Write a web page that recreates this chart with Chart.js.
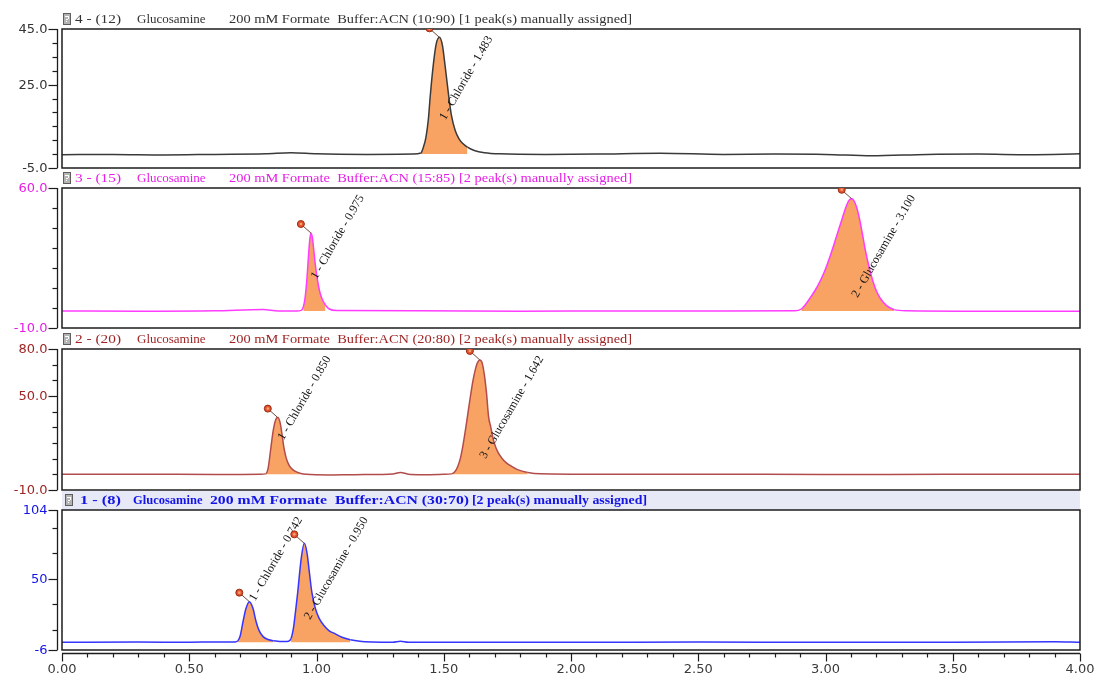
<!DOCTYPE html>
<html>
<head>
<meta charset="utf-8">
<script src="https://cdn.jsdelivr.net/npm/chart.js@4.4.1/dist/chart.umd.min.js"></script>
<style>
html, body { margin: 0; padding: 0; background: #fff; }
#wrap { position: relative; width: 1094px; height: 679px; overflow: hidden; }
#wrap canvas { position: absolute; left: 0; }
</style>
</head>
<body>
<div id="wrap">
<canvas id="p1" width="1094" height="180" style="top:0px"></canvas>
<canvas id="p2" width="1094" height="180" style="top:160px"></canvas>
<canvas id="p3" width="1094" height="182" style="top:320px"></canvas>
<canvas id="p4" width="1094" height="197" style="top:482px"></canvas>
</div>
<script>
// ---- data (time in min, signal) ----
var times1 = [0.00, 0.20, 0.40, 0.60, 0.80, 0.90, 1.00, 1.20, 1.38, 1.41, 1.42, 1.43, 1.44, 1.447, 1.46, 1.47, 1.483, 1.495, 1.505, 1.518, 1.53, 1.545, 1.56, 1.575, 1.593, 1.62, 1.66, 1.72, 1.90, 2.10, 2.35, 2.60, 2.80, 3.00, 3.18, 3.40, 3.60, 3.80, 4.00];
var signal1 = [-0.2, -0.1, -0.3, -0.1, 0.1, 0.5, 0.1, -0.1, 0, 0.4, 2.5, 6, 13, 21, 33, 39.5, 42, 39, 32, 22, 14, 8.5, 5.5, 3.8, 2.5, 1.3, 0.5, 0.1, -0.1, 0, 0.3, -0.1, 0, -0.1, -0.6, -0.1, 0, -0.2, 0.1];

var times2 = [0.00, 0.30, 0.60, 0.79, 0.85, 0.92, 0.94, 0.948, 0.955, 0.962, 0.968, 0.973, 0.978, 0.984, 0.99, 0.997, 1.005, 1.013, 1.022, 1.035, 1.05, 1.08, 1.40, 1.80, 2.20, 2.60, 2.88, 2.905, 2.92, 2.934, 2.96, 2.981, 3.00, 3.021, 3.04, 3.06, 3.075, 3.085, 3.095, 3.103, 3.112, 3.122, 3.132, 3.145, 3.158, 3.172, 3.186, 3.20, 3.217, 3.24, 3.27, 3.32, 3.60, 4.00];
var signal2 = [-1.5, -1.6, -1.4, -0.8, -1.5, -1.5, -1.2, 0.5, 5, 14, 25, 33.5, 37.5, 35, 28, 20, 13, 8, 4.5, 1.5, -0.5, -1.3, -1.4, -1.6, -1.5, -1.5, -1.4, -0.5, 1.5, 4, 9, 14, 19.5, 27, 34.5, 42.5, 48.5, 52, 54.2, 54.6, 53.6, 50.5, 45.5, 37, 28, 20, 13.5, 8.5, 4.5, 1.2, -0.8, -1.4, -1.6, -1.6];

var times3 = [0.00, 0.30, 0.60, 0.78, 0.80, 0.81, 0.82, 0.83, 0.84, 0.848, 0.857, 0.865, 0.872, 0.88, 0.89, 0.90, 0.915, 0.935, 0.96, 1.05, 1.15, 1.25, 1.30, 1.33, 1.36, 1.42, 1.50, 1.53, 1.545, 1.555, 1.565, 1.575, 1.585, 1.595, 1.605, 1.615, 1.625, 1.633, 1.642, 1.651, 1.66, 1.668, 1.676, 1.685, 1.695, 1.705, 1.715, 1.73, 1.745, 1.762, 1.79, 1.83, 1.88, 2.10, 2.50, 3.00, 3.50, 4.00];
var signal3 = [0, 0.1, -0.1, 0, 0.3, 4, 16, 28, 35, 36.2, 33, 25, 17, 11, 6.5, 4, 2, 0.7, 0, -0.4, -0.2, -0.1, 0.2, 1.2, 0.1, -0.2, 0, 0.3, 2, 5, 10, 18, 28, 39, 50, 60, 67.5, 71.5, 73, 71, 63, 52, 37, 30, 22, 17, 13.5, 10, 7.5, 5.5, 3, 1.2, 0.3, 0, 0.1, -0.1, 0, 0];

var times4 = [0.00, 0.30, 0.50, 0.60, 0.68, 0.69, 0.70, 0.711, 0.722, 0.736, 0.75, 0.763, 0.775, 0.79, 0.81, 0.83, 0.855, 0.875, 0.89, 0.90, 0.91, 0.918, 0.926, 0.94, 0.952, 0.963, 0.972, 0.982, 0.995, 1.01, 1.03, 1.05, 1.066, 1.10, 1.133, 1.17, 1.22, 1.30, 1.33, 1.36, 1.60, 2.00, 2.50, 3.00, 3.50, 3.90, 4.00];
var signal4 = [0, 0.2, 0.1, 0.3, 0.3, 1, 5, 16, 26, 32, 27, 16, 9, 4.5, 2.2, 1.2, 0.7, 0.6, 0.8, 3, 12, 25, 39, 66, 77.8, 70, 55, 39, 27, 19, 13, 9, 7.4, 4, 2, 0.8, 0.2, 0, 0.8, 0, 0.1, 0, 0.2, 0, 0, 0.5, 0];

// integrated peaks: [from, to] and their labels
var fills1 = [[1.41, 1.60]];
var fills2 = [[0.945, 1.04], [2.90, 3.28]];
var fills3 = [[0.80, 0.94], [1.53, 1.86]];
var fills4 = [[0.69, 0.83], [0.895, 1.16]];
var peaks1 = ['1 - Chloride - 1.483'];
var peaks2 = ['1 - Chloride - 0.975', '2 - Glucosamine - 3.100'];
var peaks3 = ['1 - Chloride - 0.850', '3 - Glucosamine - 1.642'];
var peaks4 = ['1 - Chloride - 0.742', '2 - Glucosamine - 0.950'];

var titles1 = ['4 - (12)', 'Glucosamine', '200 mM Formate  Buffer:ACN (10:90)', '[1 peak(s) manually assigned]'];
var titles2 = ['3 - (15)', 'Glucosamine', '200 mM Formate  Buffer:ACN (15:85)', '[2 peak(s) manually assigned]'];
var titles3 = ['2 - (20)', 'Glucosamine', '200 mM Formate  Buffer:ACN (20:80)', '[2 peak(s) manually assigned]'];
var titles4 = ['1 - (8)', 'Glucosamine', '200 mM Formate  Buffer:ACN (30:70)', '[2 peak(s) manually assigned]'];

// axis ticks
var yMajor1 = [45, 25, -5], yLabels1 = ['45.0', '25.0', '-5.0'], yMinor1 = [40, 35, 30, 20, 15, 10, 5, 0];
var yMajor2 = [60, -10], yLabels2 = ['60.0', '-10.0'], yMinor2 = [50, 40, 30, 20, 10, 0];
var yMajor3 = [80, 50, -10], yLabels3 = ['80.0', '50.0', '-10.0'], yMinor3 = [70, 60, 40, 30, 20, 10, 0];
var yMajor4 = [104, 50, -6], yLabels4 = ['104', '50', '-6'], yMinor4 = [90, 70, 30, 10];
var xMajor = [0, 0.5, 1, 1.5, 2, 2.5, 3, 3.5, 4];
var xLabels = ['0.00', '0.50', '1.00', '1.50', '2.00', '2.50', '3.00', '3.50', '4.00'];
var xMinor = [0.1, 0.2, 0.3, 0.4, 0.6, 0.7, 0.8, 0.9, 1.1, 1.2, 1.3, 1.4, 1.6, 1.7, 1.8, 1.9, 2.1, 2.2, 2.3, 2.4, 2.6, 2.7, 2.8, 2.9, 3.1, 3.2, 3.3, 3.4, 3.6, 3.7, 3.8, 3.9];

var ORANGE = '#f8a264';
var NONE = 'rgba(0,0,0,0)';

var panelPlugin = {
  id: 'panel',
  afterDraw: function(chart, args, o) {
    var ctx = chart.ctx, a = chart.chartArea;
    var ys = chart.scales.y, xs = chart.scales.x;
    ctx.save();

    // title strip
    if (o.highlight) {
      ctx.fillStyle = '#e7e9f6';
      ctx.fillRect(a.left, a.top - 19, a.right - a.left, 19);
    }
    // little report icon
    var iy = a.top - 16;
    ctx.fillStyle = '#b4b4b4';
    ctx.fillRect(o.iconX, iy, 8, 12);
    ctx.strokeStyle = '#5e5e5e';
    ctx.lineWidth = 1;
    ctx.strokeRect(o.iconX + 0.5, iy + 0.5, 7, 11);
    ctx.fillStyle = '#ffffff';
    ctx.fillRect(o.iconX + 2, iy + 3, 4, 1);
    ctx.fillRect(o.iconX + 5, iy + 4, 1, 2);
    ctx.fillRect(o.iconX + 3, iy + 6, 2, 1);
    ctx.fillRect(o.iconX + 3, iy + 8, 1, 1);

    // title pieces; a piece with an end x is stretched to that width
    ctx.fillStyle = o.color;
    ctx.font = (o.bold ? 'bold 12.5px' : '13px') + ' "Liberation Serif"';
    ctx.textBaseline = 'middle';
    ctx.textAlign = 'left';
    o.title.forEach(function(s, i) {
      var x0 = o.titlePos[i][0], x1 = o.titlePos[i][1];
      var w = ctx.measureText(s).width;
      ctx.save();
      ctx.translate(x0, a.top - 9);
      if (x1) ctx.scale((x1 - x0) / w, 1);
      ctx.fillText(s, 0, 0);
      ctx.restore();
    });

    // frame
    ctx.strokeStyle = '#1c1c1c';
    ctx.lineWidth = 1.5;
    ctx.strokeRect(a.left, a.top, a.right - a.left, a.bottom - a.top);

    // y axis (separate line left of the frame)
    var axX = a.left - 4.5;
    ctx.beginPath();
    ctx.moveTo(axX, a.top);
    ctx.lineTo(axX, a.bottom);
    ctx.lineWidth = 1.3;
    ctx.stroke();
    ctx.lineWidth = 1.2;
    o.yMajor.forEach(function(v) {
      var y = Math.round(ys.getPixelForValue(v)) + 0.5;
      ctx.beginPath(); ctx.moveTo(axX - 9, y); ctx.lineTo(axX, y); ctx.stroke();
    });
    o.yMinor.forEach(function(v) {
      var y = Math.round(ys.getPixelForValue(v)) + 0.5;
      ctx.beginPath(); ctx.moveTo(axX - 5, y); ctx.lineTo(axX, y); ctx.stroke();
    });
    ctx.fillStyle = o.color;
    ctx.font = '13px "DejaVu Sans"';
    ctx.textAlign = 'right';
    o.yMajor.forEach(function(v, i) {
      ctx.fillText(o.yLabels[i], axX - 10, ys.getPixelForValue(v) + 1);
    });

    // x axis on the last panel only
    if (o.xAxis) {
      var by = a.bottom + 3.5;
      ctx.strokeStyle = '#1c1c1c';
      ctx.lineWidth = 1.3;
      ctx.beginPath(); ctx.moveTo(a.left, by); ctx.lineTo(a.right, by); ctx.stroke();
      ctx.lineWidth = 1.2;
      xMajor.forEach(function(v) {
        var x = Math.round(xs.getPixelForValue(v)) + 0.5;
        ctx.beginPath(); ctx.moveTo(x, by); ctx.lineTo(x, by + 8); ctx.stroke();
      });
      xMinor.forEach(function(v) {
        var x = Math.round(xs.getPixelForValue(v)) + 0.5;
        ctx.beginPath(); ctx.moveTo(x, by); ctx.lineTo(x, by + 4); ctx.stroke();
      });
      ctx.fillStyle = '#3a3a3a';
      ctx.textAlign = 'center';
      xMajor.forEach(function(v, i) {
        ctx.fillText(xLabels[i], xs.getPixelForValue(v), by + 16);
      });
    }

    // peak markers and labels
    ctx.beginPath();
    ctx.rect(a.left, a.top, a.right - a.left, a.bottom - a.top);
    ctx.clip();
    var data = chart.data.datasets[0].data;
    var pts = chart.getDatasetMeta(0).data;
    o.fills.forEach(function(r, k) {
      var best = -1;
      data.forEach(function(d, i) {
        if (d.x >= r[0] && d.x <= r[1] && (best < 0 || d.y > data[best].y)) best = i;
      });
      var ax = pts[best].x, ay = pts[best].y;
      ctx.strokeStyle = '#6b4a3a';
      ctx.lineWidth = 1;
      ctx.beginPath(); ctx.moveTo(ax - 9, ay - 8); ctx.lineTo(ax, ay); ctx.stroke();
      ctx.fillStyle = '#e2552c';
      ctx.strokeStyle = '#9a2a12';
      ctx.beginPath(); ctx.arc(ax - 10, ay - 9, 3.5, 0, Math.PI * 2); ctx.fill(); ctx.stroke();
      ctx.fillStyle = '#f6a07a';
      ctx.beginPath(); ctx.arc(ax - 10, ay - 9, 1.3, 0, Math.PI * 2); ctx.fill();

      var txt = o.peaks[k];
      ctx.font = '12px "Liberation Serif"';
      ctx.textAlign = 'left';
      ctx.textBaseline = 'middle';
      var w = ctx.measureText(txt).width;
      ctx.save();
      ctx.translate(ax + 3, a.top + 8 + w * Math.sin(Math.PI / 3));
      ctx.rotate(-Math.PI / 3);
      ctx.fillStyle = '#151515';
      ctx.fillText(txt, 0, 0);
      ctx.restore();
    });
    ctx.restore();
  }
};

function makePanel(id, c) {
  return new Chart(document.getElementById(id), {
    type: 'line',
    data: {
      datasets: [{
        data: c.times.map(function(t, i) { return { x: t, y: c.signal[i] }; }),
        borderColor: c.line,
        borderWidth: 1.5,
        pointRadius: 0,
        cubicInterpolationMode: 'monotone',
        backgroundColor: NONE,
        fill: { value: c.base },
        segment: {
          backgroundColor: function(s) {
            var hit = c.fills.some(function(r) { return s.p0.parsed.x >= r[0] && s.p1.parsed.x <= r[1]; });
            return hit ? ORANGE : NONE;
          }
        }
      }]
    },
    options: {
      responsive: false,
      animation: false,
      events: [],
      layout: { padding: c.pad },
      scales: {
        x: { type: 'linear', min: 0, max: 4, display: false },
        y: { type: 'linear', min: c.yMin, max: c.yMax, display: false }
      },
      plugins: {
        legend: { display: false },
        tooltip: { enabled: false },
        panel: {
          color: c.text, bold: c.bold, highlight: c.bold, iconX: c.iconX,
          title: c.title, titlePos: c.titlePos,
          yMajor: c.yMajor, yMinor: c.yMinor, yLabels: c.yLabels,
          fills: c.fills, peaks: c.peaks, xAxis: c.xAxis
        }
      }
    },
    plugins: [panelPlugin]
  });
}

var posStd = [[75, 121], [137, 0], [229, 455], [459, 632]];
var posBold = [[80, 121], [133, 0], [210, 469], [472, 647]];

makePanel('p1', { times: times1, signal: signal1, base: 0, fills: fills1, peaks: peaks1, title: titles1,
  yMin: -5, yMax: 45, yMajor: yMajor1, yMinor: yMinor1, yLabels: yLabels1,
  line: '#3a3a3a', text: '#333333', bold: false, iconX: 63, titlePos: posStd,
  pad: { left: 62, right: 14, top: 29, bottom: 12 }, xAxis: false });

makePanel('p2', { times: times2, signal: signal2, base: -1.5, fills: fills2, peaks: peaks2, title: titles2,
  yMin: -10, yMax: 60, yMajor: yMajor2, yMinor: yMinor2, yLabels: yLabels2,
  line: '#ff3cff', text: '#e61ee6', bold: false, iconX: 63, titlePos: posStd,
  pad: { left: 62, right: 14, top: 28, bottom: 12 }, xAxis: false });

makePanel('p3', { times: times3, signal: signal3, base: 0, fills: fills3, peaks: peaks3, title: titles3,
  yMin: -10, yMax: 80, yMajor: yMajor3, yMinor: yMinor3, yLabels: yLabels3,
  line: '#b24c4c', text: '#9e2424', bold: false, iconX: 63, titlePos: posStd,
  pad: { left: 62, right: 14, top: 29, bottom: 12 }, xAxis: false });

makePanel('p4', { times: times4, signal: signal4, base: 0, fills: fills4, peaks: peaks4, title: titles4,
  yMin: -6, yMax: 104, yMajor: yMajor4, yMinor: yMinor4, yLabels: yLabels4,
  line: '#3535ff', text: '#1414e6', bold: true, iconX: 65, titlePos: posBold,
  pad: { left: 62, right: 14, top: 28, bottom: 29 }, xAxis: true });
</script>
</body>
</html>
